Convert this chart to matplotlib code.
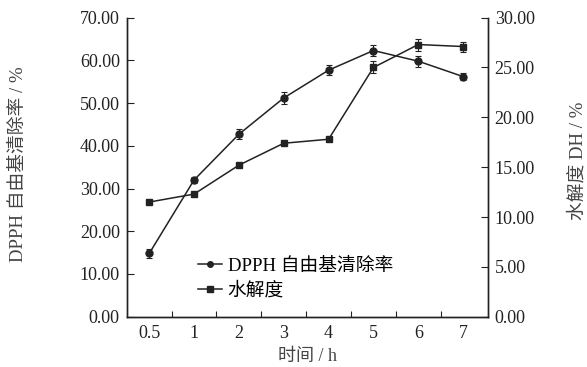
import numpy as np
import matplotlib
matplotlib.use('Agg')
import matplotlib.pyplot as plt
from matplotlib.ticker import FixedLocator
from matplotlib.lines import Line2D

plt.rcParams['font.family'] = ['Liberation Serif', 'Noto Sans CJK SC']

# data
time_labels = ['0.5', '1', '2', '3', '4', '5', '6', '7']
dpph = [14.8, 32.0, 42.7, 51.2, 57.7, 62.3, 59.8, 56.2]
dpph_err = [1.0, 0.8, 1.2, 1.3, 1.2, 1.4, 1.3, 0.9]
dh = [11.5, 12.3, 15.2, 17.4, 17.8, 25.0, 27.3, 27.1]
dh_err = [0.2, 0.2, 0.2, 0.2, 0.2, 0.6, 0.6, 0.5]

x = np.arange(len(time_labels))
ink = '#222222'
label_ink = '#444444'

fig = plt.figure(figsize=(5.87, 3.67), dpi=100)
ax = fig.add_axes([0.216, 0.137, 0.615, 0.815])
ax2 = ax.twinx()

ax.errorbar(x, dpph, yerr=dpph_err, color=ink, marker='o', markersize=5,
            linewidth=1.1, capsize=2.5, elinewidth=0.8, capthick=0.8)
ax2.errorbar(x, dh, yerr=dh_err, color=ink, marker='s', markersize=5,
             linewidth=1.1, capsize=2.5, elinewidth=0.8, capthick=0.8)

ax.set_xlim(-0.5, 7.55)
ax.set_ylim(0, 70)
ax2.set_ylim(0, 30)
ax.set_xticks(x)
ax.set_xticklabels(time_labels)
ax.xaxis.set_minor_locator(FixedLocator(np.arange(0.5, 7, 1.0)))
ax.tick_params(axis='x', which='major', length=0, labelsize=13, pad=6, colors=ink)
ax.tick_params(axis='x', which='minor', direction='in', length=4, width=0.8, colors=ink)
ax.set_yticks(np.arange(0, 71, 10))
ax.set_yticklabels(['%.2f' % v for v in np.arange(0, 71, 10)])
ax2.set_yticks(np.arange(0, 31, 5))
ax2.set_yticklabels(['%.2f' % v for v in np.arange(0, 31, 5)])
ax.tick_params(axis='y', direction='in', length=5, width=0.8, labelsize=13, pad=5, colors=ink)
ax2.tick_params(axis='y', direction='in', length=5, width=0.8, labelsize=13, pad=5, colors=ink)

for a in (ax, ax2):
    a.spines['top'].set_visible(False)
    for s in ('left', 'right', 'bottom'):
        a.spines[s].set_linewidth(1.0)
        a.spines[s].set_color(ink)

ax.set_xlabel('时间 / h', fontsize=13, color=label_ink)
ax.xaxis.set_label_coords(0.5, -0.105)
ax.set_ylabel('DPPH 自由基清除率 / %', fontsize=13.5, color=label_ink)
ax.yaxis.set_label_coords(-0.277, 0.51)
ax2.set_ylabel('水解度 DH / %', fontsize=13.5, color=label_ink)
ax2.yaxis.set_label_coords(1.225, 0.52)

handles = [Line2D([], [], color=ink, marker='o', markersize=4, linewidth=1.1),
           Line2D([], [], color=ink, marker='s', markersize=4.5, linewidth=1.1)]
ax.legend(handles, ['DPPH 自由基清除率', '水解度'], loc='lower left',
          bbox_to_anchor=(0.16, 0.012), frameon=False, fontsize=13.5,
          handlelength=1.3, handletextpad=0.3, labelspacing=0.4,
          borderpad=0.2)

fig.savefig('out.png', dpi=100)
